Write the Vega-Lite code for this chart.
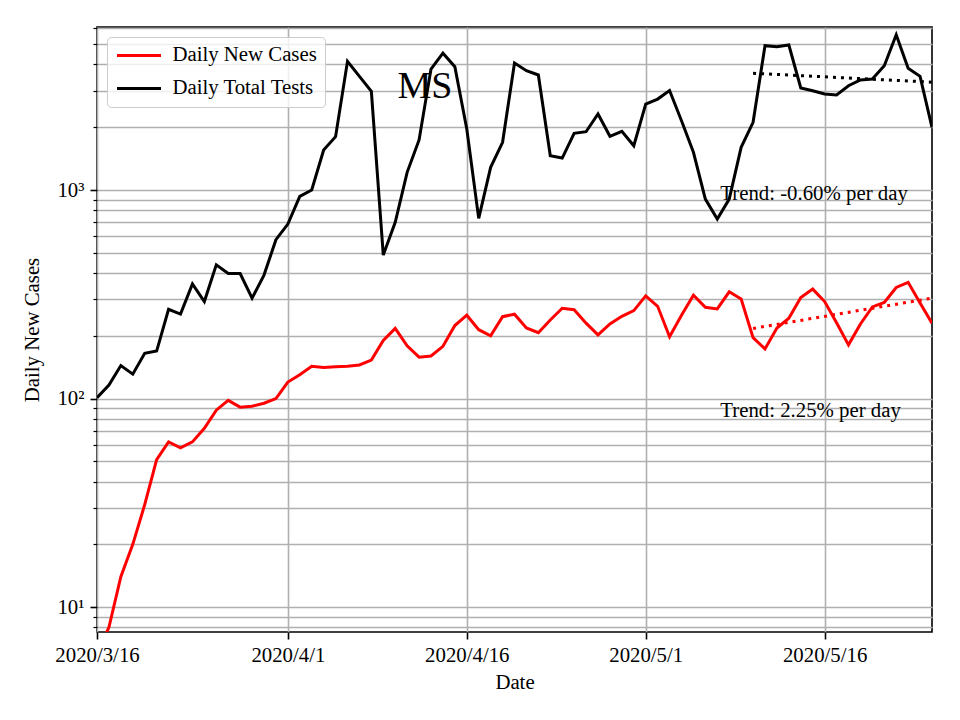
{
  "$schema": "https://vega.github.io/schema/vega-lite/v6.json",
  "width": 835,
  "height": 605,
  "autosize": {"type": "none"},
  "padding": {"left": 97, "top": 27, "right": 28, "bottom": 88},
  "background": "white",
  "config": {
    "font": "Liberation Serif",
    "view": {"stroke": "black", "strokeWidth": 1.6},
    "axis": {
      "labelFont": "Liberation Serif",
      "titleFont": "Liberation Serif",
      "labelFontSize": 20.8,
      "titleFontSize": 20.8,
      "titleFontWeight": "normal",
      "labelColor": "black",
      "titleColor": "black",
      "tickColor": "black",
      "gridColor": "#b0b0b0",
      "gridWidth": 1.6,
      "domain": false
    }
  },
  "datasets": {
    "daily": [
      {"date": "2020-03-16", "cases": 6, "tests": 101},
      {"date": "2020-03-17", "cases": 8, "tests": 116},
      {"date": "2020-03-18", "cases": 14, "tests": 144},
      {"date": "2020-03-19", "cases": 20, "tests": 131},
      {"date": "2020-03-20", "cases": 31, "tests": 165},
      {"date": "2020-03-21", "cases": 51, "tests": 169},
      {"date": "2020-03-22", "cases": 62, "tests": 268},
      {"date": "2020-03-23", "cases": 58, "tests": 254},
      {"date": "2020-03-24", "cases": 62, "tests": 355},
      {"date": "2020-03-25", "cases": 72, "tests": 292},
      {"date": "2020-03-26", "cases": 88, "tests": 438},
      {"date": "2020-03-27", "cases": 98, "tests": 398},
      {"date": "2020-03-28", "cases": 91, "tests": 398},
      {"date": "2020-03-29", "cases": 92, "tests": 303},
      {"date": "2020-03-30", "cases": 95, "tests": 391},
      {"date": "2020-03-31", "cases": 100, "tests": 578},
      {"date": "2020-04-01", "cases": 120, "tests": 687},
      {"date": "2020-04-02", "cases": 130, "tests": 933},
      {"date": "2020-04-03", "cases": 143, "tests": 1000},
      {"date": "2020-04-04", "cases": 141, "tests": 1556},
      {"date": "2020-04-05", "cases": 142, "tests": 1802},
      {"date": "2020-04-06", "cases": 143, "tests": 4140},
      {"date": "2020-04-07", "cases": 145, "tests": 3510},
      {"date": "2020-04-08", "cases": 153, "tests": 2973},
      {"date": "2020-04-09", "cases": 190, "tests": 488},
      {"date": "2020-04-10", "cases": 217, "tests": 700},
      {"date": "2020-04-11", "cases": 179, "tests": 1216},
      {"date": "2020-04-12", "cases": 158, "tests": 1738},
      {"date": "2020-04-13", "cases": 160, "tests": 3805},
      {"date": "2020-04-14", "cases": 178, "tests": 4530},
      {"date": "2020-04-15", "cases": 224, "tests": 3900},
      {"date": "2020-04-16", "cases": 251, "tests": 1962},
      {"date": "2020-04-17", "cases": 214, "tests": 731},
      {"date": "2020-04-18", "cases": 200, "tests": 1285},
      {"date": "2020-04-19", "cases": 247, "tests": 1694},
      {"date": "2020-04-20", "cases": 254, "tests": 4064},
      {"date": "2020-04-21", "cases": 218, "tests": 3733},
      {"date": "2020-04-22", "cases": 207, "tests": 3562},
      {"date": "2020-04-23", "cases": 238, "tests": 1461},
      {"date": "2020-04-24", "cases": 271, "tests": 1423},
      {"date": "2020-04-25", "cases": 267, "tests": 1870},
      {"date": "2020-04-26", "cases": 230, "tests": 1904},
      {"date": "2020-04-27", "cases": 202, "tests": 2316},
      {"date": "2020-04-28", "cases": 228, "tests": 1810},
      {"date": "2020-04-29", "cases": 248, "tests": 1913},
      {"date": "2020-04-30", "cases": 264, "tests": 1631},
      {"date": "2020-05-01", "cases": 311, "tests": 2584},
      {"date": "2020-05-02", "cases": 277, "tests": 2730},
      {"date": "2020-05-03", "cases": 198, "tests": 3000},
      {"date": "2020-05-04", "cases": 251, "tests": 2150},
      {"date": "2020-05-05", "cases": 313, "tests": 1517},
      {"date": "2020-05-06", "cases": 274, "tests": 905},
      {"date": "2020-05-07", "cases": 269, "tests": 726},
      {"date": "2020-05-08", "cases": 325, "tests": 905},
      {"date": "2020-05-09", "cases": 300, "tests": 1602},
      {"date": "2020-05-10", "cases": 196, "tests": 2113},
      {"date": "2020-05-11", "cases": 173, "tests": 4920},
      {"date": "2020-05-12", "cases": 218, "tests": 4865},
      {"date": "2020-05-13", "cases": 243, "tests": 4960},
      {"date": "2020-05-14", "cases": 305, "tests": 3085},
      {"date": "2020-05-15", "cases": 335, "tests": 2995},
      {"date": "2020-05-16", "cases": 292, "tests": 2886},
      {"date": "2020-05-17", "cases": 231, "tests": 2856},
      {"date": "2020-05-18", "cases": 181, "tests": 3164},
      {"date": "2020-05-19", "cases": 228, "tests": 3370},
      {"date": "2020-05-20", "cases": 275, "tests": 3408},
      {"date": "2020-05-21", "cases": 289, "tests": 3946},
      {"date": "2020-05-22", "cases": 341, "tests": 5556},
      {"date": "2020-05-23", "cases": 361, "tests": 3834},
      {"date": "2020-05-24", "cases": 287, "tests": 3510},
      {"date": "2020-05-25", "cases": 230, "tests": 1997}
    ],
    "trend": [
      {"date": "2020-05-10", "series": "cases", "value": 217},
      {"date": "2020-05-25", "series": "cases", "value": 303},
      {"date": "2020-05-10", "series": "tests", "value": 3630},
      {"date": "2020-05-25", "series": "tests", "value": 3290}
    ],
    "notes": [
      {"date": "2020-05-07T06:00:00Z", "value": 900, "label": "Trend: -0.60% per day"},
      {"date": "2020-05-07T06:00:00Z", "value": 82, "label": "Trend: 2.25% per day"}
    ],
    "state": [
      {"date": "2020-04-12T12:00:00Z", "value": 2767, "label": "MS"}
    ]
  },
  "encoding": {
    "x": {
      "field": "date",
      "type": "temporal",
      "scale": {
        "type": "utc",
        "domain": [
          {"year": 2020, "month": 3, "date": 16, "utc": true},
          {"year": 2020, "month": 5, "date": 25, "utc": true}
        ]
      },
      "axis": {
        "title": "Date",
        "values": [
          {"year": 2020, "month": 3, "date": 16, "utc": true},
          {"year": 2020, "month": 4, "date": 1, "utc": true},
          {"year": 2020, "month": 4, "date": 16, "utc": true},
          {"year": 2020, "month": 5, "date": 1, "utc": true},
          {"year": 2020, "month": 5, "date": 16, "utc": true}
        ],
        "labelExpr": "utcFormat(datum.value, '%Y/%-m/%-d')",
        "grid": true,
        "tickSize": 7,
        "tickWidth": 1.6,
        "labelPadding": 6,
        "titlePadding": 8,
        "labelOverlap": false,
        "labelBound": false,
        "labelFlush": false
      }
    },
    "y": {
      "field": "value",
      "type": "quantitative",
      "scale": {"type": "log", "domain": [7.6, 6050], "nice": false},
      "axis": {
        "title": "Daily New Cases",
        "values": [8, 9, 10, 20, 30, 40, 50, 60, 70, 80, 90, 100, 200, 300, 400, 500, 600, 700, 800, 900, 1000, 2000, 3000, 4000, 5000, 6000],
        "labelExpr": "datum.value == 10 ? '10¹' : datum.value == 100 ? '10²' : datum.value == 1000 ? '10³' : ''",
        "grid": true,
        "tickSize": {"condition": {"test": "datum.value == 10 || datum.value == 100 || datum.value == 1000", "value": 7}, "value": 4},
        "tickWidth": {"condition": {"test": "datum.value == 10 || datum.value == 100 || datum.value == 1000", "value": 1.6}, "value": 1.2},
        "labelPadding": 6,
        "titlePadding": 14,
        "labelOverlap": false,
        "labelBound": false,
        "labelFlush": false
      }
    }
  },
  "layer": [
    {
      "data": {"name": "daily"},
      "transform": [{"fold": ["cases", "tests"], "as": ["series", "value"]}],
      "mark": {"type": "line", "strokeWidth": 3, "clip": true},
      "encoding": {
        "color": {
          "field": "series",
          "type": "nominal",
          "scale": {"domain": ["cases", "tests"], "range": ["red", "black"]},
          "legend": {
            "orient": "top-left",
            "offset": 10,
            "title": null,
            "symbolType": "M-5,0H5",
            "symbolStrokeWidth": 3,
            "symbolSize": 77.4,
            "symbolOffset": 13.6,
            "labelFont": "Liberation Serif",
            "labelFontSize": 20.8,
            "labelColor": "black",
            "labelOffset": 23,
            "labelLimit": 300,
            "fillColor": "rgba(255,255,255,0.8)",
            "strokeColor": "#cccccc",
            "cornerRadius": 4,
            "padding": 8,
            "rowPadding": 11,
            "labelExpr": "datum.label == 'cases' ? 'Daily New Cases' : 'Daily Total Tests'"
          }
        }
      }
    },
    {
      "data": {"name": "trend"},
      "mark": {"type": "line", "strokeWidth": 3, "strokeDash": [3, 5], "clip": true},
      "encoding": {
        "color": {"field": "series", "type": "nominal", "legend": null}
      }
    },
    {
      "data": {"name": "notes"},
      "mark": {"type": "text", "align": "left", "baseline": "alphabetic", "fontSize": 20.8, "font": "Liberation Serif", "color": "black"},
      "encoding": {"text": {"field": "label"}}
    },
    {
      "data": {"name": "state"},
      "mark": {"type": "text", "align": "center", "baseline": "alphabetic", "fontSize": 38, "font": "Liberation Serif", "color": "black"},
      "encoding": {"text": {"field": "label"}}
    }
  ]
}
